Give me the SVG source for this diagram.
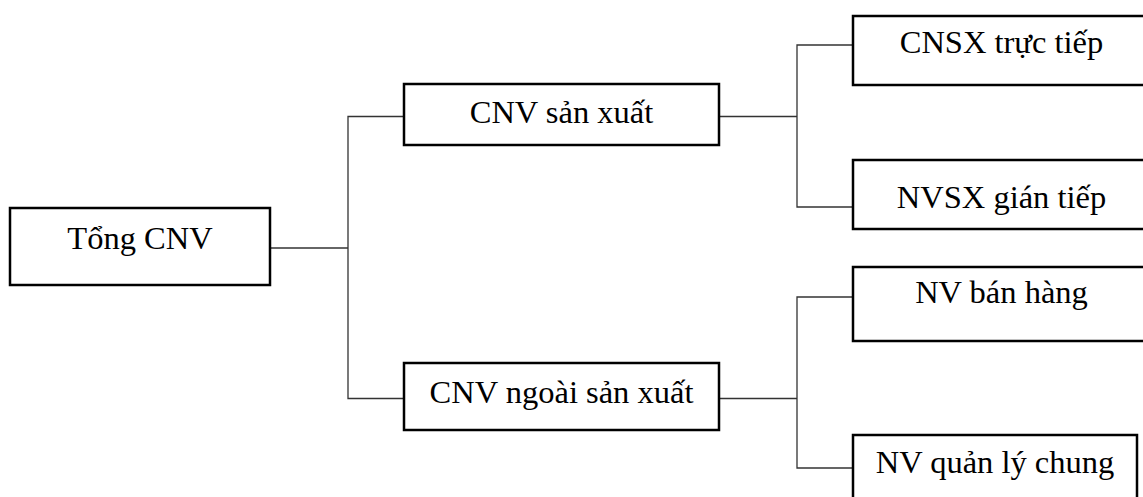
<svg xmlns="http://www.w3.org/2000/svg" width="1143" height="497" viewBox="0 0 1143 497">
  <style>
    .box { fill: #ffffff; stroke: #000000; stroke-width: 2.5; }
    .label { font-family: "Liberation Serif", "Times New Roman", serif; font-size: 32.5px; fill: #000000; text-anchor: middle; }
    .wire { fill: none; stroke: #333333; stroke-width: 1.3; }
  </style>
  <rect width="1143" height="497" fill="#ffffff"/>

  <!-- connectors -->
  <g id="connectors">
    <path class="wire" d="M271 248 H348"/>
    <path class="wire" d="M404 116.5 H348 V398.5 H404"/>
    <path class="wire" d="M720 116.5 H797"/>
    <path class="wire" d="M853 45 H797 V207 H853"/>
    <path class="wire" d="M720 398.5 H797"/>
    <path class="wire" d="M853 297 H797 V468 H853"/>
  </g>

  <g id="tong-cnv">
    <rect class="box" x="10" y="208" width="260" height="77"/>
    <text class="label" x="140" y="249">Tổng CNV</text>
  </g>

  <g id="cnv-san-xuat">
    <rect class="box" x="404" y="84" width="315" height="61"/>
    <text class="label" x="561.5" y="123">CNV sản xuất</text>
  </g>

  <g id="cnv-ngoai-san-xuat">
    <rect class="box" x="404" y="363" width="315" height="67"/>
    <text class="label" x="561.5" y="403">CNV ngoài sản xuất</text>
  </g>

  <g id="cnsx-truc-tiep">
    <rect class="box" x="853" y="16" width="297" height="69"/>
    <text class="label" x="1001.5" y="53">CNSX trực tiếp</text>
  </g>

  <g id="nvsx-gian-tiep">
    <rect class="box" x="853" y="160" width="297" height="69"/>
    <text class="label" x="1001.5" y="208">NVSX gián tiếp</text>
  </g>

  <g id="nv-ban-hang">
    <rect class="box" x="853" y="267" width="297" height="74"/>
    <text class="label" x="1001.5" y="303">NV bán hàng</text>
  </g>

  <g id="nv-quan-ly-chung">
    <rect class="box" x="853" y="435" width="284" height="70"/>
    <text class="label" x="995" y="473">NV quản lý chung</text>
  </g>
</svg>
